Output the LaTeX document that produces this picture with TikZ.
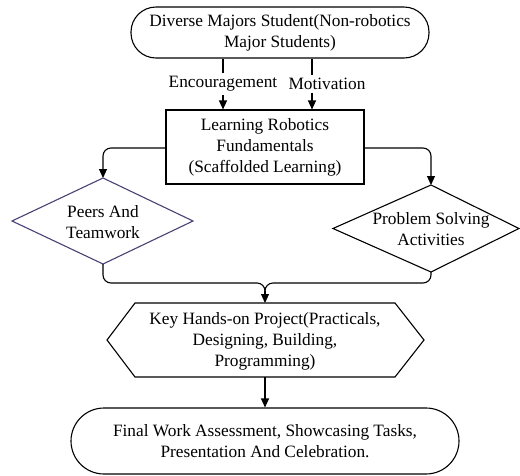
\documentclass[tikz,border=0pt]{standalone}
\usepackage{fontspec}
\setmainfont{Liberation Serif}
\usetikzlibrary{arrows.meta,shapes.geometric}
\definecolor{dpurple}{RGB}{72,66,118}
\begin{document}
\begin{tikzpicture}[x=1pt,y=-1pt,
  txt/.style={font=\fontsize{17.3}{21}\selectfont, align=center, inner sep=0pt},
  ln/.style={line width=1.1pt, black},
  arr/.style={ln, -{Triangle[length=9pt,width=8pt]}},
  term/.style={draw, ln, rounded corners=#1, txt},
  boxx/.style={draw, ln, txt},
  shp/.style={draw, line width=1.1pt, line join=miter}
]
\useasboundingbox (0,0) rectangle (520,475);
\fill[white] (0,0) rectangle (520,475);

% top terminator
\node[term=25pt, minimum width=298pt, minimum height=51pt] (start) at (280,32.5)
  {Diverse Majors Student(Non-robotics\\Major Students)};

% rectangle
\node[boxx, minimum width=198pt, minimum height=74pt] (learn) at (265,147)
  {Learning Robotics\\Fundamentals\\(Scaffolded Learning)};

% left diamond
\coordinate (lt) at (103,178);
\coordinate (lb) at (103,264);
\coordinate (ll) at (12,221);
\coordinate (lr) at (193,221);
\draw[shp, dpurple] (lt) -- (lr) -- (lb) -- (ll) -- cycle;
\node[txt] (peers) at (103,222) {Peers And\\Teamwork};

% right diamond
\coordinate (rt) at (431,185);
\coordinate (rb) at (431,272);
\coordinate (rl) at (333,228.5);
\coordinate (rr) at (519,228.5);
\draw[shp, black] (rt) -- (rr) -- (rb) -- (rl) -- cycle;
\node[txt] (prob) at (431,229.5) {Problem Solving\\Activities};

% hexagon
\coordinate (ht) at (265,303);
\coordinate (hb) at (265,377);
\draw[shp, black] (135,303) -- (395,303) -- (424,340) -- (395,377) -- (135,377) -- (107,340) -- cycle;
\node[txt] (proj) at (265,341) {Key Hands-on Project(Practicals,\\Designing, Building,\\Programming)};

% final terminator
\node[term=33pt, minimum width=388pt, minimum height=66pt] (final) at (265,441)
  {Final Work Assessment, Showcasing Tasks,\\Presentation And Celebration.};

% connectors top
\draw[arr] (start.south -| 223,0) -- node[txt, fill=white, inner ysep=3pt, inner xsep=1pt] (enc) {Encouragement} (learn.north -| 223,0);
\draw[arr] (start.south -| 312,0) -- node[txt, fill=white, inner ysep=3pt, inner xsep=1pt, xshift=15pt] (mot) {Motivation} (learn.north -| 312,0);

% connectors to diamonds
\draw[arr, rounded corners=8pt] (learn.west |- 0,148) -| (lt);
\draw[arr, rounded corners=8pt] (learn.east |- 0,148) -| (rt);

% merge
\coordinate (m) at (265,283);
\coordinate (mb) at (265,293);
\draw[ln, rounded corners=8pt] (lb) |- (m) -- (mb);
\draw[ln, rounded corners=8pt] (rb) |- (m) -- (mb);
\draw[arr] (265,291) -- (ht);

\draw[arr] (hb) -- (final.north);
\end{tikzpicture}
\end{document}
